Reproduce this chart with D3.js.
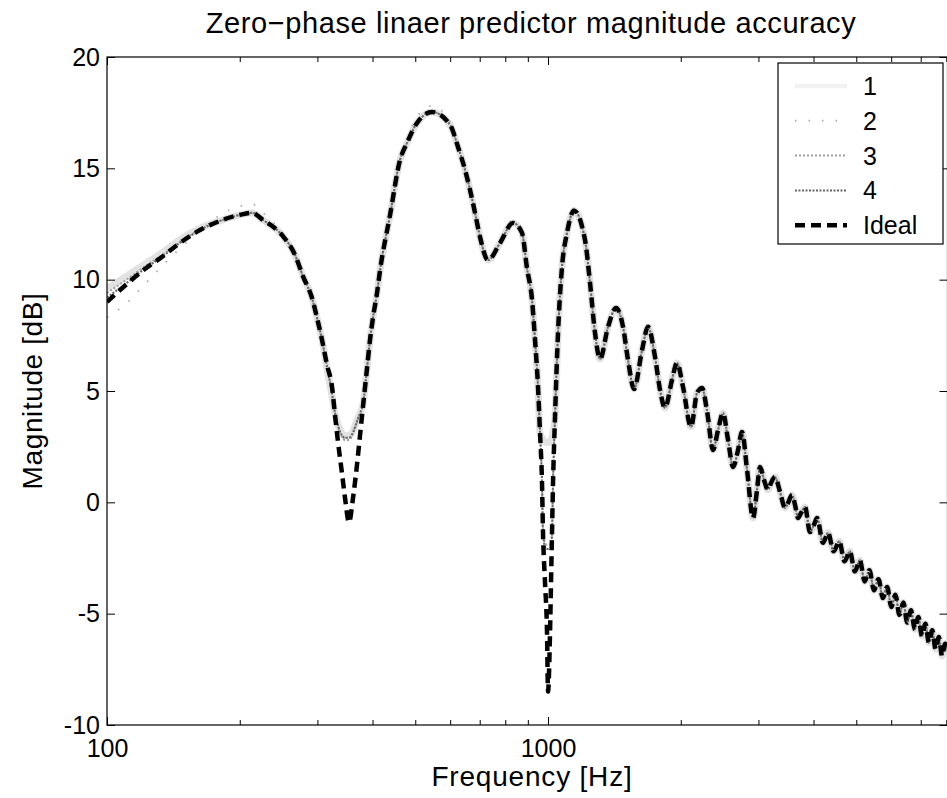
<!DOCTYPE html>
<html>
<head>
<meta charset="utf-8">
<script src="https://d3js.org/d3.v7.min.js"></script>
<style>
  body { margin: 0; background: #fff; }
  text { font-family: "Liberation Sans", Arial, sans-serif; fill: #000; }
</style>
</head>
<body>
<svg id="chart" width="947" height="798"></svg>
<script>
// frequency grid (Hz)
const freq = [
  100, 111.6, 121.9, 133.2, 146.4, 162.5, 180.4, 200.2, 213.2, 225.8,
  249.4, 266.9, 278.3, 291.6, 299.3, 307.3, 315.4, 323.7, 328.9, 334.1,
  341.1, 346.5, 353.8, 361.3, 368.9, 374.7, 380.6, 388.6, 394.8, 401.0,
  409.5, 415.9, 438.3, 461.7, 478.9, 504.6, 545.8, 599.6, 625.1, 648.4,
  665.6, 683.1, 701.1, 731.1, 778.4, 832.8, 873.0, 896.2, 919.9, 934.4,
  949.1, 959.1, 969.1, 974.2, 984.5, 994.8, 1000, 1010.5, 1015.8, 1021.1,
  1026.5, 1037.2, 1053.6, 1075.8, 1104.2, 1145, 1213.1, 1245.4, 1278.1, 1312,
  1368, 1427, 1479.4, 1518.6, 1567, 1634, 1685.5, 1748.3, 1794.6, 1842,
  1910.4, 1961, 2023.6, 2110, 2177, 2235, 2294, 2367, 2430, 2494,
  2560, 2628, 2697, 2754, 2827, 2917, 2978, 3025, 3089, 3153,
  3203, 3270, 3358, 3447, 3501, 3575, 3632, 3689, 3747, 3826,
  3927, 4011, 4074, 4203, 4314, 4444, 4574, 4704, 4834, 4964,
  5094, 5224, 5354, 5484, 5614, 5744, 5874, 6004, 6134, 6264,
  6394, 6524, 6654, 6784, 6914, 7044, 7174, 7304, 7434, 7564,
  7694, 7824, 7954, 8000
];

// magnitudes in dB
const ideal = [
  9.0, 9.85, 10.48, 11.02, 11.65, 12.23, 12.64, 12.91, 13.0, 12.68,
  12.0, 11.11, 10.15, 9.18, 8.3, 7.29, 6.17, 5.2, 3.9, 2.7,
  1.3, 0.2, -0.9, 0.2, 1.7, 3.0, 4.3, 6.0, 7.3, 8.3,
  9.4, 10.4, 12.9, 15.37, 16.14, 17.04, 17.53, 16.95, 15.96, 14.93,
  14.03, 13.0, 11.92, 10.88, 11.65, 12.55, 12.1, 10.5, 9.09, 7.29,
  5.18, 3.12, 0.87, -1.37, -3.62, -5.86, -8.5, -5.86, -3.62, -1.37,
  0.87, 3.84, 7.61, 10.57, 12.1, 13.1, 11.78, 9.85, 7.61, 6.44,
  7.88, 8.73, 7.88, 6.39, 5.09, 6.84, 7.88, 6.53, 5.05, 4.24,
  5.5, 6.26, 5.18, 3.39, 4.91, 5.14, 4.1, 2.35, 3.25, 4.01,
  2.8, 1.59, 2.35, 3.16, 1.45, -0.7, 0.56, 1.59, 1.0, 0.56,
  0.87, 1.14, 0.47, -0.25, -0.03, 0.33, -0.12, -0.7, -0.48, -0.21,
  -1.33, -1.0, -0.7, -1.82, -1.37, -2.2, -1.75, -2.65, -2.2, -3.1,
  -2.6, -3.55, -3.05, -3.95, -3.45, -4.3, -3.8, -4.7, -4.15, -5.05,
  -4.5, -5.4, -4.85, -5.7, -5.15, -6.0, -5.45, -6.3, -5.75, -6.6,
  -6.05, -6.9, -6.35, -6.6
];

const approx1 = [
  9.6, 10.2, 10.7, 11.2, 11.8, 12.3, 12.64, 12.91, 13.0, 12.68,
  12.0, 11.11, 10.15, 9.18, 8.3, 7.29, 6.0, 4.8, 4.0, 3.5,
  3.1, 3.0, 3.0, 3.2, 3.7, 4.0, 4.4, 6.0, 7.3, 8.3,
  9.4, 10.4, 12.9, 15.37, 16.14, 17.04, 17.53, 16.95, 15.96, 14.93,
  14.03, 13.0, 11.92, 10.88, 11.65, 12.55, 12.1, 10.5, 9.09, 7.29,
  5.18, 3.12, 2.9, 2.8, 2.7, 2.7, 2.7, 2.7, 2.8, 2.9,
  3.1, 3.84, 7.61, 10.57, 12.1, 13.1, 11.78, 9.85, 7.61, 6.44,
  7.88, 8.73, 7.88, 6.39, 5.09, 6.84, 7.88, 6.53, 5.05, 4.24,
  5.5, 6.26, 5.18, 3.39, 4.91, 5.14, 4.1, 2.35, 3.25, 4.01,
  2.8, 1.59, 2.35, 3.16, 1.45, -0.7, 0.56, 1.59, 1.0, 0.56,
  0.87, 1.14, 0.47, -0.25, -0.03, 0.33, -0.12, -0.7, -0.48, -0.21,
  -1.33, -1.0, -0.7, -1.82, -1.37, -2.2, -1.75, -2.65, -2.2, -3.1,
  -2.6, -3.55, -3.05, -3.95, -3.45, -4.3, -3.8, -4.7, -4.15, -5.05,
  -4.5, -5.4, -4.85, -5.7, -5.15, -6.0, -5.45, -6.3, -5.75, -6.6,
  -6.05, -6.9, -6.35, -6.6
];

const approx2 = [
  8.3, 9.0, 9.8, 10.6, 11.4, 12.2, 12.9, 13.3, 13.4, 13.0,
  12.1, 11.11, 10.15, 9.18, 8.3, 7.29, 6.0, 4.8, 4.0, 3.45,
  3.0, 2.9, 2.9, 3.2, 3.7, 4.0, 4.4, 6.0, 7.3, 8.3,
  9.4, 10.4, 12.9, 15.37, 16.3, 17.3, 17.8, 17.1, 15.96, 14.93,
  14.03, 13.0, 11.92, 10.88, 11.65, 12.7, 12.1, 10.5, 9.09, 7.29,
  5.18, 3.12, 0.87, -1.37, -2.0, -2.2, -2.2, -2.2, -2.0, -1.37,
  0.87, 3.84, 7.61, 10.57, 12.1, 13.2, 11.78, 9.85, 7.61, 6.44,
  7.88, 8.73, 7.88, 6.39, 5.09, 6.84, 7.88, 6.53, 5.05, 4.24,
  5.5, 6.26, 5.18, 3.39, 4.91, 5.14, 4.1, 2.35, 3.25, 4.01,
  2.8, 1.59, 2.35, 3.16, 1.45, -0.7, 0.56, 1.59, 1.0, 0.56,
  0.87, 1.14, 0.47, -0.25, -0.03, 0.33, -0.12, -0.7, -0.48, -0.21,
  -1.33, -1.0, -0.7, -1.82, -1.37, -2.2, -1.75, -2.65, -2.2, -3.1,
  -2.6, -3.55, -3.05, -3.95, -3.45, -4.3, -3.8, -4.7, -4.15, -5.05,
  -4.5, -5.4, -4.85, -5.7, -5.15, -6.0, -5.45, -6.3, -5.75, -6.6,
  -6.05, -6.9, -6.35, -6.6
];

const approx3 = [
  9.4, 10.05, 10.6, 11.1, 11.7, 12.25, 12.64, 12.91, 13.0, 12.68,
  12.0, 11.11, 10.15, 9.18, 8.3, 7.29, 6.05, 4.9, 4.0, 3.4,
  2.95, 2.8, 2.8, 3.1, 3.6, 4.0, 4.4, 6.0, 7.3, 8.3,
  9.4, 10.4, 12.9, 15.37, 16.14, 17.04, 17.53, 16.95, 15.96, 14.93,
  14.03, 13.0, 11.92, 10.88, 11.65, 12.55, 12.1, 10.5, 9.09, 7.29,
  5.18, 3.12, 0.87, -1.37, -1.8, -1.9, -1.9, -1.9, -1.8, -1.37,
  0.87, 3.84, 7.61, 10.57, 12.1, 13.1, 11.78, 9.85, 7.61, 6.44,
  7.88, 8.73, 7.88, 6.39, 5.09, 6.84, 7.88, 6.53, 5.05, 4.24,
  5.5, 6.26, 5.18, 3.39, 4.91, 5.14, 4.1, 2.35, 3.25, 4.01,
  2.8, 1.59, 2.35, 3.16, 1.45, -0.7, 0.56, 1.59, 1.0, 0.56,
  0.87, 1.14, 0.47, -0.25, -0.03, 0.33, -0.12, -0.7, -0.48, -0.21,
  -1.33, -1.0, -0.7, -1.82, -1.37, -2.2, -1.75, -2.65, -2.2, -3.1,
  -2.6, -3.55, -3.05, -3.95, -3.45, -4.3, -3.8, -4.7, -4.15, -5.05,
  -4.5, -5.4, -4.85, -5.7, -5.15, -6.0, -5.45, -6.3, -5.75, -6.6,
  -6.05, -6.9, -6.35, -6.6
];

const approx4 = [
  9.2, 9.9, 10.5, 11.02, 11.65, 12.23, 12.64, 12.91, 13.0, 12.68,
  12.0, 11.11, 10.15, 9.18, 8.3, 7.29, 6.1, 4.9, 4.0, 3.45,
  3.0, 2.9, 2.9, 3.15, 3.65, 4.0, 4.4, 6.0, 7.3, 8.3,
  9.4, 10.4, 12.9, 15.37, 16.14, 17.04, 17.53, 16.95, 15.96, 14.93,
  14.03, 13.0, 11.92, 10.88, 11.65, 12.55, 12.1, 10.5, 9.09, 7.29,
  5.18, 3.12, 0.87, -1.37, -2.0, -2.1, -2.1, -2.1, -2.0, -1.37,
  0.87, 3.84, 7.61, 10.57, 12.1, 13.1, 11.78, 9.85, 7.61, 6.44,
  7.88, 8.73, 7.88, 6.39, 5.09, 6.84, 7.88, 6.53, 5.05, 4.24,
  5.5, 6.26, 5.18, 3.39, 4.91, 5.14, 4.1, 2.35, 3.25, 4.01,
  2.8, 1.59, 2.35, 3.16, 1.45, -0.7, 0.56, 1.59, 1.0, 0.56,
  0.87, 1.14, 0.47, -0.25, -0.03, 0.33, -0.12, -0.7, -0.48, -0.21,
  -1.33, -1.0, -0.7, -1.82, -1.37, -2.2, -1.75, -2.65, -2.2, -3.1,
  -2.6, -3.55, -3.05, -3.95, -3.45, -4.3, -3.8, -4.7, -4.15, -5.05,
  -4.5, -5.4, -4.85, -5.7, -5.15, -6.0, -5.45, -6.3, -5.75, -6.6,
  -6.05, -6.9, -6.35, -6.6
];

const seriesNames = ["1", "2", "3", "4", "Ideal"];
const xMajorTicks = [100, 1000];
const xMinorTicks = [200, 300, 400, 500, 600, 700, 800, 900, 2000, 3000, 4000, 5000, 6000, 7000, 8000];
const yTicks = [-10, -5, 0, 5, 10, 15, 20];

const svg = d3.select("#chart");
const pLeft = 107, pRight = 946.3, pTop = 57, pBottom = 725;
const edgeRight = 947.5; // right frame sits just off the picture

const x = d3.scaleLog().domain([100, 8000]).range([pLeft, pRight]);
const y = d3.scaleLinear().domain([-10, 20]).range([pBottom, pTop]);

svg.append("defs").append("clipPath").attr("id", "plotclip")
  .append("rect").attr("x", pLeft).attr("y", pTop)
  .attr("width", edgeRight - pLeft).attr("height", pBottom - pTop);

// line styles for each series
const styles = [
  { color: "#e2e2e2", width: 7, dash: null },
  { color: "#b0b0b0", width: 2, dash: "1.5,12" },
  { color: "#a0a0a0", width: 2, dash: "2,2" },
  { color: "#666", width: 2, dash: "2,1.5" },
  { color: "#000", width: 4.5, dash: "10,6" }
];
const allSeries = [approx1, approx2, approx3, approx4, ideal];

const line = d3.line()
  .x(d => x(d[0]))
  .y(d => y(d[1]))
  .curve(d3.curveMonotoneX);

const plot = svg.append("g").attr("clip-path", "url(#plotclip)");
allSeries.forEach((vals, i) => {
  const pts = freq.map((f, j) => [f, vals[j]]);
  plot.append("path")
    .attr("d", line(pts))
    .attr("fill", "none")
    .attr("stroke", styles[i].color)
    .attr("stroke-width", styles[i].width)
    .attr("stroke-dasharray", styles[i].dash)
    .attr("stroke-linejoin", "round");
});

// axes, ticks pointing inward like matlab
const fs = "25px";
svg.append("g").attr("transform", `translate(0,${pBottom})`)
  .call(d3.axisBottom(x).tickValues(xMajorTicks).tickSize(-8).tickPadding(14).tickFormat(d3.format("d")));
svg.append("g").attr("transform", `translate(0,${pBottom})`)
  .call(d3.axisBottom(x).tickValues(xMinorTicks).tickSize(-5).tickFormat(""));
svg.append("g").attr("transform", `translate(0,${pTop})`)
  .call(d3.axisTop(x).tickValues(xMajorTicks).tickSize(-8).tickFormat(""));
svg.append("g").attr("transform", `translate(0,${pTop})`)
  .call(d3.axisTop(x).tickValues(xMinorTicks).tickSize(-5).tickFormat(""));
svg.append("g").attr("transform", `translate(${pLeft},0)`)
  .call(d3.axisLeft(y).tickValues(yTicks).tickSize(-8).tickPadding(7).tickFormat(d => d));
svg.append("g").attr("transform", `translate(${edgeRight},0)`)
  .call(d3.axisRight(y).tickValues(yTicks).tickSize(-8).tickFormat(""));

svg.selectAll(".domain").remove();
svg.selectAll(".tick line").attr("stroke", "#000").attr("stroke-width", 1);
svg.selectAll(".tick text").style("font-size", fs).attr("font-family", null);

svg.append("rect").attr("x", pLeft).attr("y", pTop)
  .attr("width", edgeRight - pLeft).attr("height", pBottom - pTop)
  .attr("fill", "none").attr("stroke", "#000").attr("stroke-width", 1.2);

// titles
svg.append("text").attr("x", 531).attr("y", 33)
  .attr("text-anchor", "middle").style("font-size", "29px").style("letter-spacing", "0.6px")
  .text("Zero\u2212phase linaer predictor magnitude accuracy");
svg.append("text").attr("x", 532).attr("y", 786)
  .attr("text-anchor", "middle").style("font-size", "28px").style("letter-spacing", "0.8px")
  .text("Frequency [Hz]");
svg.append("text").attr("transform", `translate(42,${(pTop + pBottom) / 2}) rotate(-90)`)
  .attr("text-anchor", "middle").style("font-size", "28px").style("letter-spacing", "0.6px")
  .text("Magnitude [dB]");

// legend
const lg = svg.append("g");
lg.append("rect").attr("x", 778).attr("y", 63).attr("width", 165).attr("height", 181)
  .attr("fill", "#fff").attr("stroke", "#000").attr("stroke-width", 1.2);
seriesNames.forEach((name, i) => {
  const cy = 86 + i * 34.8;
  lg.append("line").attr("x1", 795).attr("x2", 847).attr("y1", cy).attr("y2", cy)
    .attr("stroke", i === 0 ? "#f2f2f2" : styles[i].color)
    .attr("stroke-width", Math.min(styles[i].width, 4.5))
    .attr("stroke-dasharray", styles[i].dash);
  lg.append("text").attr("x", 863).attr("y", cy + 9).style("font-size", fs).text(name);
});
</script>
</body>
</html>
